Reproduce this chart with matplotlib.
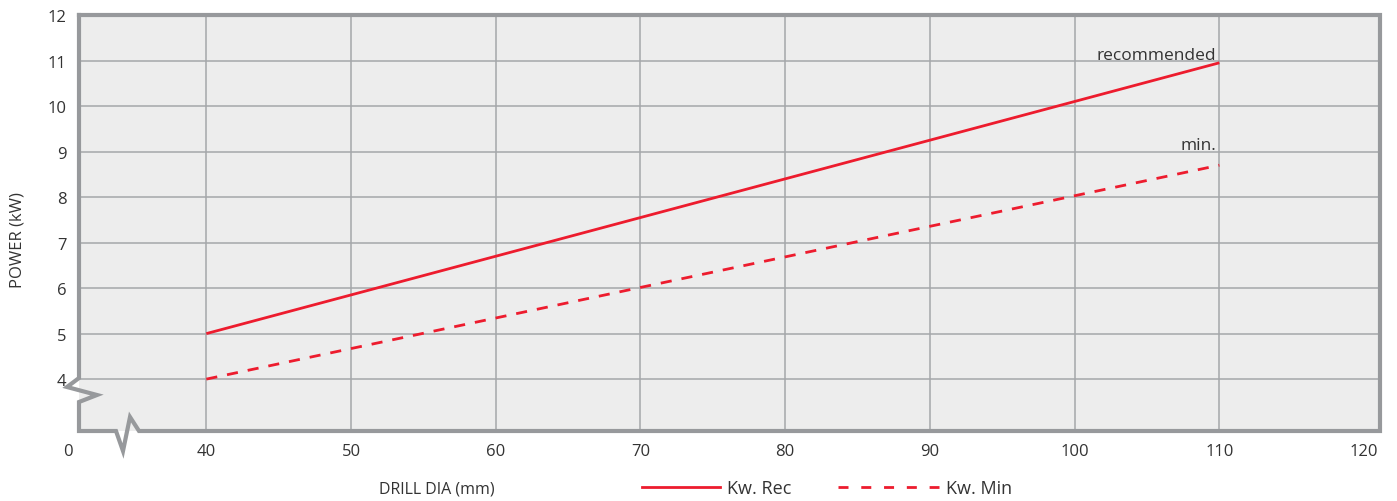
import matplotlib
matplotlib.use("Agg")
import matplotlib.pyplot as plt
from matplotlib.lines import Line2D
from matplotlib.transforms import ScaledTranslation

plt.rcParams['font.family'] = ['Open Sans', 'DejaVu Sans']

# data
drill_dia = [40, 110]
kw_rec = [5.0, 10.95]
kw_min = [4.0, 8.7]

x_ticks = [40, 50, 60, 70, 80, 90, 100, 110, 120]
x_tick_labels = ['40', '50', '60', '70', '80', '90', '100', '110', '120']
x_grid = [40, 50, 60, 70, 80, 90, 100, 110]
y_ticks = [4, 5, 6, 7, 8, 9, 10, 11, 12]
y_grid = [4, 5, 6, 7, 8, 9, 10, 11]

red = '#ED1C2E'
border = '#97999C'
gridc = '#A5A7AA'
txt = '#333333'

W, H = 1397, 502
fig = plt.figure(figsize=(W / 100, H / 100), dpi=100)
# axes box in pixels: left 79, right 1380, top 16, bottom 432
L, R, T, B = 79, 1380, 16, 432
ax = fig.add_axes([L / W, (H - B) / H, (R - L) / W, (B - T) / H])
ax.set_facecolor('#EDEDED')

x_lo, x_hi = 31.2, 121.1
ax.set_xlim(x_lo, x_hi)
ax.set_ylim(2.86, 12)

for x in x_grid:
    ax.axvline(x, color=gridc, lw=1.1, zorder=1)
for y in y_grid:
    ax.axhline(y, color=gridc, lw=1.1, zorder=1)

ax.plot(drill_dia, kw_rec, color=red, lw=2.0, zorder=3, solid_capstyle='butt')
ax.plot(drill_dia, kw_min, color=red, lw=2.0, ls=(0, (4, 3.6)), zorder=3)

ax.text(109.8, 11.04, 'recommended', ha='right', va='baseline', fontsize=12.5, color=txt)
ax.text(109.8, 9.06, 'min.', ha='right', va='baseline', fontsize=12.5, color=txt)

ax.set_xticks([x_lo] + x_ticks, ['0'] + x_tick_labels)
ax.set_yticks(y_ticks)
ax.tick_params(length=0, labelsize=12, labelcolor=txt)
ax.tick_params(axis='x', pad=9)
ax.tick_params(axis='y', pad=9)
lbl0 = ax.get_xticklabels()[0]
lbl0.set_transform(lbl0.get_transform() + ScaledTranslation(-0.11, 0, fig.dpi_scale_trans))

for s in ax.spines.values():
    s.set_visible(False)

# frame with break marks (pixel positions -> axes fraction)
frame_px = [(79, 16), (1380, 16), (1380, 432), (139, 432), (130, 418), (123, 452),
            (116, 432), (79, 432), (79, 403), (97, 396), (67, 388), (79, 379), (79, 16)]
fx = [(px - L) / (R - L) for px, py in frame_px]
fy = [(B - py) / (B - T) for px, py in frame_px]
ax.add_line(Line2D(fx, fy, transform=ax.transAxes, color=border, lw=3.0,
                   clip_on=False, zorder=5, solid_joinstyle='miter'))

ax.set_xlabel('DRILL DIA (mm)', fontsize=11.5, color=txt)
ax.xaxis.set_label_coords((437 - L) / (R - L), -(490 - B) / (B - T))
ax.xaxis.label.set_va('center')
ax.set_ylabel('POWER (kW)', fontsize=12, color=txt)
ax.yaxis.set_label_coords(-(L - 18) / (R - L), (B - 240) / (B - T))
ax.yaxis.label.set_va('center')

# legend: two entries with different handle lengths
fs = 13
px_per_em = fs * 100 / 72
leg1 = fig.legend([Line2D([], [], color=red, lw=2.0)], ['Kw. Rec'],
                  loc='center left', bbox_to_anchor=(642 / W, 1 - 489 / H),
                  frameon=False, fontsize=fs, handlelength=78 / px_per_em,
                  handletextpad=7 / px_per_em, borderpad=0, borderaxespad=0,
                  labelcolor=txt)
fig.legend([Line2D([], [], color=red, lw=2.0, ls=(0, (3.6, 4.6)))], ['Kw. Min'],
           loc='center left', bbox_to_anchor=(838 / W, 1 - 489 / H),
           frameon=False, fontsize=fs, handlelength=101 / px_per_em,
           handletextpad=7 / px_per_em, borderpad=0, borderaxespad=0,
           labelcolor=txt)

fig.savefig('out.png', dpi=100)
